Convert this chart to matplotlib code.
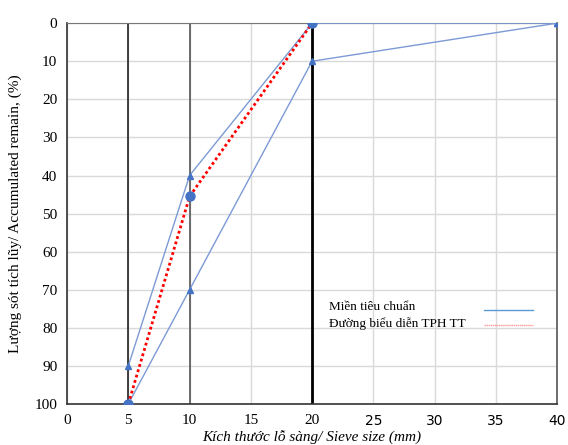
import numpy as np
import matplotlib.pyplot as plt

plt.rcParams['font.family'] = ['Liberation Serif', 'DejaVu Serif']

# sieve sizes (mm) and accumulated remain (%)
upper_x = [5, 10, 20, 40]
upper_y = [90, 40, 0, 0]
lower_x = [5, 10, 20, 40]
lower_y = [100, 70, 10, 0]
tph_x = [5, 10, 20]
tph_y = [100, 45.5, 0]
sieve_lines = [5, 10, 20]
xticks = [0, 5, 10, 15, 20, 25, 30, 35, 40]
yticks = [0, 10, 20, 30, 40, 50, 60, 70, 80, 90, 100]

fig = plt.figure(figsize=(5.68, 4.45), dpi=100)
ax = fig.add_axes([0.118, 0.092, 0.863, 0.856])

blue_line = '#7c9ad6'
blue_mark = '#4472c4'

ax.plot(upper_x, upper_y, color=blue_line, lw=1, marker='^', ms=5,
        mfc=blue_mark, mec=blue_mark, zorder=3)
ax.plot(lower_x, lower_y, color=blue_line, lw=1, marker='^', ms=5,
        mfc=blue_mark, mec=blue_mark, zorder=3)
ax.plot(tph_x, tph_y, color='red', lw=2, ls=(0, (1, 1)), zorder=4)
ax.plot(tph_x, tph_y, ls='none', marker='o', ms=6.5, color=blue_mark, zorder=5)

# sieve size verticals
ax.axvline(sieve_lines[0], color='#222222', lw=1.2, zorder=2)
ax.axvline(sieve_lines[1], color='#555555', lw=1.2, zorder=2)
ax.axvline(sieve_lines[2], color='black', lw=2, zorder=2)

ax.set_xlim(0, 40)
ax.set_ylim(100, 0)
ax.set_xticks(xticks)
ax.set_yticks(yticks)
ax.grid(True, color='#d9d9d9', lw=1, zorder=0)
ax.set_axisbelow(True)
ax.tick_params(length=0, labelsize=11, pad=7)
for lab in ax.get_xticklabels():
    if int(lab.get_text()) >= 25:
        lab.set_fontfamily('DejaVu Sans')
        lab.set_fontsize(10)

for s in ['left', 'bottom']:
    ax.spines[s].set_color('#333333')
    ax.spines[s].set_linewidth(1.2)
ax.spines['top'].set_color('#777777')
ax.spines['right'].set_color('#555555')
ax.spines['right'].set_linewidth(1.2)

ax.set_ylabel('Lượng sót tích lũy/ Accumulated remain, (%)', fontsize=11, labelpad=9)
ax.set_xlabel('Kích thước lỗ sàng/ Sieve size (mm)', fontsize=11, style='italic', labelpad=2)

# legend
ax.text(21.4, 74.6, 'Miền tiêu chuẩn', fontsize=9.5, va='center')
ax.text(21.4, 79.0, 'Đường biểu diễn TPH TT', fontsize=9.5, va='center')
ax.plot([34.0, 38.0], [75.3, 75.3], color='#5b9bd5', lw=1)
ax.plot([34.0, 38.0], [79.3, 79.3], color='#ff9999', lw=1, ls=(0, (1, 0.5)))

fig.savefig('out.png', dpi=100)
